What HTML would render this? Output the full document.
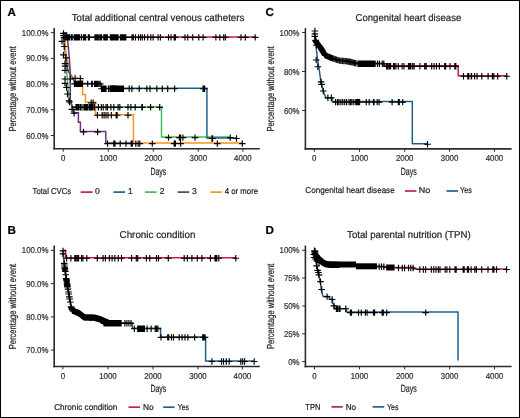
<!DOCTYPE html>
<html><head><meta charset="utf-8"><style>
html,body{margin:0;padding:0;background:#fff;}
body{width:520px;height:418px;overflow:hidden;position:relative;}
.frame{position:absolute;left:0;top:0;width:520px;height:418px;box-sizing:border-box;border:1px solid #000;}
svg{position:absolute;left:0;top:0;will-change:transform;}
text{font-family:"Liberation Sans",sans-serif;text-rendering:geometricPrecision;stroke-width:0.22px;}
</style></head><body>
<svg width="520" height="418" viewBox="0 0 520 418">
<text x="7.5" y="15.9" font-size="11.6" text-anchor="start" fill="#000" stroke="#000" font-weight="bold">A</text>
<text x="71.75" y="20.6" font-size="10" text-anchor="start" fill="#262626" stroke="#262626" font-weight="normal" textLength="172.5" lengthAdjust="spacingAndGlyphs">Total additional central venous catheters</text>
<line x1="54.2" y1="28" x2="54.2" y2="149.6" stroke="#2b2b2b" stroke-width="1.6"/>
<line x1="53.4" y1="148.8" x2="259.8" y2="148.8" stroke="#2b2b2b" stroke-width="1.6"/>
<line x1="50.9" y1="32.7" x2="54.2" y2="32.7" stroke="#2b2b2b" stroke-width="1"/>
<text x="48.4" y="35.7" font-size="8.5" text-anchor="end" fill="#303030" stroke="#303030" font-weight="normal" textLength="26.62" lengthAdjust="spacingAndGlyphs">100.0%</text>
<line x1="50.9" y1="58.4" x2="54.2" y2="58.4" stroke="#2b2b2b" stroke-width="1"/>
<text x="48.4" y="61.4" font-size="8.5" text-anchor="end" fill="#303030" stroke="#303030" font-weight="normal" textLength="22.26" lengthAdjust="spacingAndGlyphs">90.0%</text>
<line x1="50.9" y1="84.1" x2="54.2" y2="84.1" stroke="#2b2b2b" stroke-width="1"/>
<text x="48.4" y="87.1" font-size="8.5" text-anchor="end" fill="#303030" stroke="#303030" font-weight="normal" textLength="22.26" lengthAdjust="spacingAndGlyphs">80.0%</text>
<line x1="50.9" y1="109.8" x2="54.2" y2="109.8" stroke="#2b2b2b" stroke-width="1"/>
<text x="48.4" y="112.8" font-size="8.5" text-anchor="end" fill="#303030" stroke="#303030" font-weight="normal" textLength="22.26" lengthAdjust="spacingAndGlyphs">70.0%</text>
<line x1="50.9" y1="135.5" x2="54.2" y2="135.5" stroke="#2b2b2b" stroke-width="1"/>
<text x="48.4" y="138.5" font-size="8.5" text-anchor="end" fill="#303030" stroke="#303030" font-weight="normal" textLength="22.26" lengthAdjust="spacingAndGlyphs">60.0%</text>
<line x1="63.3" y1="148.8" x2="63.3" y2="151.7" stroke="#2b2b2b" stroke-width="1"/>
<text x="63.3" y="161.2" font-size="8.5" text-anchor="middle" fill="#303030" stroke="#303030" font-weight="normal" textLength="4.39" lengthAdjust="spacingAndGlyphs">0</text>
<line x1="108.3" y1="148.8" x2="108.3" y2="151.7" stroke="#2b2b2b" stroke-width="1"/>
<text x="108.3" y="161.2" font-size="8.5" text-anchor="middle" fill="#303030" stroke="#303030" font-weight="normal" textLength="17.57" lengthAdjust="spacingAndGlyphs">1000</text>
<line x1="153.3" y1="148.8" x2="153.3" y2="151.7" stroke="#2b2b2b" stroke-width="1"/>
<text x="153.3" y="161.2" font-size="8.5" text-anchor="middle" fill="#303030" stroke="#303030" font-weight="normal" textLength="17.57" lengthAdjust="spacingAndGlyphs">2000</text>
<line x1="198.3" y1="148.8" x2="198.3" y2="151.7" stroke="#2b2b2b" stroke-width="1"/>
<text x="198.3" y="161.2" font-size="8.5" text-anchor="middle" fill="#303030" stroke="#303030" font-weight="normal" textLength="17.57" lengthAdjust="spacingAndGlyphs">3000</text>
<line x1="242.9" y1="148.8" x2="242.9" y2="151.7" stroke="#2b2b2b" stroke-width="1"/>
<text x="242.9" y="161.2" font-size="8.5" text-anchor="middle" fill="#303030" stroke="#303030" font-weight="normal" textLength="17.57" lengthAdjust="spacingAndGlyphs">4000</text>
<text transform="translate(15.9,88.9) rotate(-90)" x="0" y="0" font-size="10.2" text-anchor="middle" fill="#262626" stroke="#262626" textLength="85.4" lengthAdjust="spacingAndGlyphs">Percentage without event</text>
<text x="150.4" y="175.0" font-size="10.4" text-anchor="start" fill="#262626" stroke="#262626" font-weight="normal" textLength="16.0" lengthAdjust="spacingAndGlyphs">Days</text>
<path d="M63.3,32.7 H64.6 V36.9 H255.2" fill="none" stroke="#c91f3e" stroke-width="1.5"/>
<path d="M63.3,32.7 L64,40 L65.5,55 L66.5,70 L67.5,82 L68.2,90 L68.8,96.4 L71.8,106.8 H161.5 V137.1 H230.3" fill="none" stroke="#49b75a" stroke-width="1.5"/>
<path d="M63.3,32.7 L64.5,45 L66,58 L67,66 L68.5,72 L71.4,75.7 L74.2,81.2 L74.6,83.4 H101.2 V88.2 H206.9 V138.0 H236.5" fill="none" stroke="#21608e" stroke-width="1.5"/>
<path d="M63.3,32.7 L64.7,36 L65.5,50 L67,60 L69.4,66 L70.2,72 L70.7,74.5 L71,78.5 H82.6 V94.5 H85.4 V102.3 H95.5 V114.7 H133.4 V143.1 H242.5" fill="none" stroke="#f8941b" stroke-width="1.5"/>
<path d="M63.3,32.7 L66.5,32.7 L67.8,41.6 L69.3,58 L70.2,72 L70.3,100.7 L72.9,107.6 L73.3,112.7 H78.4 V122.2 H80.4 V131.5 H105.8 V143.1 H132" fill="none" stroke="#67347b" stroke-width="1.5"/>
<text x="32.55" y="194.3" font-size="8.6" text-anchor="start" fill="#262626" stroke="#262626" font-weight="normal" textLength="38.6" lengthAdjust="spacingAndGlyphs">Total CVCs</text>
<line x1="80.7" y1="192.1" x2="92.6" y2="192.1" stroke="#c91f3e" stroke-width="1.7"/>
<text x="95.1" y="194.3" font-size="8.6" text-anchor="start" fill="#262626" stroke="#262626" font-weight="normal">0</text>
<line x1="113.4" y1="192.1" x2="125" y2="192.1" stroke="#21608e" stroke-width="1.7"/>
<text x="128.1" y="194.3" font-size="8.6" text-anchor="start" fill="#262626" stroke="#262626" font-weight="normal">1</text>
<line x1="145.1" y1="192.1" x2="156.6" y2="192.1" stroke="#49b75a" stroke-width="1.7"/>
<text x="159.8" y="194.3" font-size="8.6" text-anchor="start" fill="#262626" stroke="#262626" font-weight="normal">2</text>
<line x1="177.6" y1="192.1" x2="189.2" y2="192.1" stroke="#67347b" stroke-width="1.7"/>
<text x="192.1" y="194.3" font-size="8.6" text-anchor="start" fill="#262626" stroke="#262626" font-weight="normal">3</text>
<line x1="210.4" y1="192.1" x2="221.9" y2="192.1" stroke="#f8941b" stroke-width="1.7"/>
<text x="224.75" y="194.3" font-size="8.6" text-anchor="start" fill="#262626" stroke="#262626" font-weight="normal" textLength="33.4" lengthAdjust="spacingAndGlyphs">4 or more</text>
<text x="7.5" y="233.8" font-size="11.6" text-anchor="start" fill="#000" stroke="#000" font-weight="bold">B</text>
<text x="119.55" y="238.3" font-size="10" text-anchor="start" fill="#262626" stroke="#262626" font-weight="normal" textLength="75.9" lengthAdjust="spacingAndGlyphs">Chronic condition</text>
<line x1="54.2" y1="245.5" x2="54.2" y2="367.3" stroke="#2b2b2b" stroke-width="1.6"/>
<line x1="53.4" y1="366.5" x2="259.8" y2="366.5" stroke="#2b2b2b" stroke-width="1.6"/>
<line x1="50.9" y1="250.3" x2="54.2" y2="250.3" stroke="#2b2b2b" stroke-width="1"/>
<text x="48.4" y="253.3" font-size="8.5" text-anchor="end" fill="#303030" stroke="#303030" font-weight="normal" textLength="26.62" lengthAdjust="spacingAndGlyphs">100.0%</text>
<line x1="50.9" y1="283.6" x2="54.2" y2="283.6" stroke="#2b2b2b" stroke-width="1"/>
<text x="48.4" y="286.6" font-size="8.5" text-anchor="end" fill="#303030" stroke="#303030" font-weight="normal" textLength="22.26" lengthAdjust="spacingAndGlyphs">90.0%</text>
<line x1="50.9" y1="316.9" x2="54.2" y2="316.9" stroke="#2b2b2b" stroke-width="1"/>
<text x="48.4" y="319.9" font-size="8.5" text-anchor="end" fill="#303030" stroke="#303030" font-weight="normal" textLength="22.26" lengthAdjust="spacingAndGlyphs">80.0%</text>
<line x1="50.9" y1="350.1" x2="54.2" y2="350.1" stroke="#2b2b2b" stroke-width="1"/>
<text x="48.4" y="353.1" font-size="8.5" text-anchor="end" fill="#303030" stroke="#303030" font-weight="normal" textLength="22.26" lengthAdjust="spacingAndGlyphs">70.0%</text>
<line x1="62.9" y1="366.5" x2="62.9" y2="369.4" stroke="#2b2b2b" stroke-width="1"/>
<text x="62.9" y="378.9" font-size="8.5" text-anchor="middle" fill="#303030" stroke="#303030" font-weight="normal" textLength="4.39" lengthAdjust="spacingAndGlyphs">0</text>
<line x1="108.0" y1="366.5" x2="108.0" y2="369.4" stroke="#2b2b2b" stroke-width="1"/>
<text x="108.0" y="378.9" font-size="8.5" text-anchor="middle" fill="#303030" stroke="#303030" font-weight="normal" textLength="17.57" lengthAdjust="spacingAndGlyphs">1000</text>
<line x1="153.0" y1="366.5" x2="153.0" y2="369.4" stroke="#2b2b2b" stroke-width="1"/>
<text x="153.0" y="378.9" font-size="8.5" text-anchor="middle" fill="#303030" stroke="#303030" font-weight="normal" textLength="17.57" lengthAdjust="spacingAndGlyphs">2000</text>
<line x1="198.0" y1="366.5" x2="198.0" y2="369.4" stroke="#2b2b2b" stroke-width="1"/>
<text x="198.0" y="378.9" font-size="8.5" text-anchor="middle" fill="#303030" stroke="#303030" font-weight="normal" textLength="17.57" lengthAdjust="spacingAndGlyphs">3000</text>
<line x1="242.4" y1="366.5" x2="242.4" y2="369.4" stroke="#2b2b2b" stroke-width="1"/>
<text x="242.4" y="378.9" font-size="8.5" text-anchor="middle" fill="#303030" stroke="#303030" font-weight="normal" textLength="17.57" lengthAdjust="spacingAndGlyphs">4000</text>
<text transform="translate(15.9,306.5) rotate(-90)" x="0" y="0" font-size="10.2" text-anchor="middle" fill="#262626" stroke="#262626" textLength="85.4" lengthAdjust="spacingAndGlyphs">Percentage without event</text>
<text x="150.4" y="392.2" font-size="10.4" text-anchor="start" fill="#262626" stroke="#262626" font-weight="normal" textLength="16.0" lengthAdjust="spacingAndGlyphs">Days</text>
<path d="M62.9,250.3 H65.5 V257.7 H235.8" fill="none" stroke="#c91f3e" stroke-width="1.5"/>
<path d="M62.9,250.3 L63.6,258 L64.5,266 L65.5,273 L66.5,280 L67.5,287 L68.2,290 L69.5,298 L71.1,306.3 L72.5,310.2 L79.2,313 L84,317 L94.6,317.4 L100.4,319 L106,322.8 H132.3 V328.2 H160.6 V336.9 H205.6 V361 H254.2" fill="none" stroke="#21608e" stroke-width="1.5"/>
<text x="54.15" y="409.8" font-size="8.6" text-anchor="start" fill="#262626" stroke="#262626" font-weight="normal" textLength="63.2" lengthAdjust="spacingAndGlyphs">Chronic condition</text>
<line x1="128.5" y1="407.2" x2="140" y2="407.2" stroke="#c91f3e" stroke-width="1.7"/>
<text x="142.95" y="409.8" font-size="8.6" text-anchor="start" fill="#262626" stroke="#262626" font-weight="normal" textLength="10.6" lengthAdjust="spacingAndGlyphs">No</text>
<line x1="163.1" y1="407.2" x2="174.6" y2="407.2" stroke="#21608e" stroke-width="1.7"/>
<text x="177.75" y="409.8" font-size="8.6" text-anchor="start" fill="#262626" stroke="#262626" font-weight="normal" textLength="11.2" lengthAdjust="spacingAndGlyphs">Yes</text>
<text x="265.5" y="16.1" font-size="11.6" text-anchor="start" fill="#000" stroke="#000" font-weight="bold">C</text>
<text x="355.55" y="20.7" font-size="10" text-anchor="start" fill="#262626" stroke="#262626" font-weight="normal" textLength="105.7" lengthAdjust="spacingAndGlyphs">Congenital heart disease</text>
<line x1="305.4" y1="28.1" x2="305.4" y2="149.7" stroke="#2b2b2b" stroke-width="1.6"/>
<line x1="304.6" y1="148.9" x2="511.6" y2="148.9" stroke="#2b2b2b" stroke-width="1.6"/>
<line x1="302.1" y1="32.5" x2="305.4" y2="32.5" stroke="#2b2b2b" stroke-width="1"/>
<text x="299.6" y="35.5" font-size="8.5" text-anchor="end" fill="#303030" stroke="#303030" font-weight="normal" textLength="20.08" lengthAdjust="spacingAndGlyphs">100%</text>
<line x1="302.1" y1="71.5" x2="305.4" y2="71.5" stroke="#2b2b2b" stroke-width="1"/>
<text x="299.6" y="74.5" font-size="8.5" text-anchor="end" fill="#303030" stroke="#303030" font-weight="normal" textLength="15.71" lengthAdjust="spacingAndGlyphs">80%</text>
<line x1="302.1" y1="110.5" x2="305.4" y2="110.5" stroke="#2b2b2b" stroke-width="1"/>
<text x="299.6" y="113.5" font-size="8.5" text-anchor="end" fill="#303030" stroke="#303030" font-weight="normal" textLength="15.71" lengthAdjust="spacingAndGlyphs">60%</text>
<line x1="314.3" y1="148.9" x2="314.3" y2="151.8" stroke="#2b2b2b" stroke-width="1"/>
<text x="314.3" y="161.3" font-size="8.5" text-anchor="middle" fill="#303030" stroke="#303030" font-weight="normal" textLength="4.39" lengthAdjust="spacingAndGlyphs">0</text>
<line x1="359.5" y1="148.9" x2="359.5" y2="151.8" stroke="#2b2b2b" stroke-width="1"/>
<text x="359.5" y="161.3" font-size="8.5" text-anchor="middle" fill="#303030" stroke="#303030" font-weight="normal" textLength="17.57" lengthAdjust="spacingAndGlyphs">1000</text>
<line x1="404.7" y1="148.9" x2="404.7" y2="151.8" stroke="#2b2b2b" stroke-width="1"/>
<text x="404.7" y="161.3" font-size="8.5" text-anchor="middle" fill="#303030" stroke="#303030" font-weight="normal" textLength="17.57" lengthAdjust="spacingAndGlyphs">2000</text>
<line x1="449.6" y1="148.9" x2="449.6" y2="151.8" stroke="#2b2b2b" stroke-width="1"/>
<text x="449.6" y="161.3" font-size="8.5" text-anchor="middle" fill="#303030" stroke="#303030" font-weight="normal" textLength="17.57" lengthAdjust="spacingAndGlyphs">3000</text>
<line x1="494.5" y1="148.9" x2="494.5" y2="151.8" stroke="#2b2b2b" stroke-width="1"/>
<text x="494.5" y="161.3" font-size="8.5" text-anchor="middle" fill="#303030" stroke="#303030" font-weight="normal" textLength="17.57" lengthAdjust="spacingAndGlyphs">4000</text>
<text transform="translate(273.9,88.8) rotate(-90)" x="0" y="0" font-size="10.2" text-anchor="middle" fill="#262626" stroke="#262626" textLength="85.4" lengthAdjust="spacingAndGlyphs">Percentage without event</text>
<text x="400.7" y="175.0" font-size="10.4" text-anchor="start" fill="#262626" stroke="#262626" font-weight="normal" textLength="16.0" lengthAdjust="spacingAndGlyphs">Days</text>
<path d="M314.3,32.5 L314.7,36 L315.5,40 L316.5,42 L318.5,44.5 L320.5,47 L322.5,50.5 L325.2,54.8 L332.4,57.8 L339.5,60.1 L346.7,60.7 L352,61.8 L356,62.8 L358,63.3 H384.2 V65.8 H458.2 V75.7 H506.8" fill="none" stroke="#c91f3e" stroke-width="1.5"/>
<path d="M314.3,32.5 L315.2,40 L316.1,47.1 L317.6,60 L319,68 L320.9,81.8 L323.4,91.8 L326,97.7 L332.2,97.8 L332.2,101.6 H412.3 V143.7 H427.5" fill="none" stroke="#21608e" stroke-width="1.5"/>
<text x="305.35" y="193.3" font-size="8.6" text-anchor="start" fill="#262626" stroke="#262626" font-weight="normal" textLength="89.3" lengthAdjust="spacingAndGlyphs">Congenital heart disease</text>
<line x1="405" y1="191" x2="416.4" y2="191" stroke="#c91f3e" stroke-width="1.7"/>
<text x="418.75" y="193.3" font-size="8.6" text-anchor="start" fill="#262626" stroke="#262626" font-weight="normal" textLength="11.5" lengthAdjust="spacingAndGlyphs">No</text>
<line x1="446.5" y1="191" x2="458" y2="191" stroke="#21608e" stroke-width="1.7"/>
<text x="459.95" y="193.3" font-size="8.6" text-anchor="start" fill="#262626" stroke="#262626" font-weight="normal" textLength="11.9" lengthAdjust="spacingAndGlyphs">Yes</text>
<text x="265.5" y="233.5" font-size="11.6" text-anchor="start" fill="#000" stroke="#000" font-weight="bold">D</text>
<text x="347.05" y="237.9" font-size="10" text-anchor="start" fill="#262626" stroke="#262626" font-weight="normal" textLength="123.6" lengthAdjust="spacingAndGlyphs">Total parental nutrition (TPN)</text>
<line x1="305.4" y1="245.5" x2="305.4" y2="367.3" stroke="#2b2b2b" stroke-width="1.6"/>
<line x1="304.6" y1="366.5" x2="511.6" y2="366.5" stroke="#2b2b2b" stroke-width="1.6"/>
<line x1="302.1" y1="250.3" x2="305.4" y2="250.3" stroke="#2b2b2b" stroke-width="1"/>
<text x="299.6" y="253.3" font-size="8.5" text-anchor="end" fill="#303030" stroke="#303030" font-weight="normal" textLength="20.08" lengthAdjust="spacingAndGlyphs">100%</text>
<line x1="302.1" y1="278.1" x2="305.4" y2="278.1" stroke="#2b2b2b" stroke-width="1"/>
<text x="299.6" y="281.1" font-size="8.5" text-anchor="end" fill="#303030" stroke="#303030" font-weight="normal" textLength="15.71" lengthAdjust="spacingAndGlyphs">75%</text>
<line x1="302.1" y1="306.0" x2="305.4" y2="306.0" stroke="#2b2b2b" stroke-width="1"/>
<text x="299.6" y="309.0" font-size="8.5" text-anchor="end" fill="#303030" stroke="#303030" font-weight="normal" textLength="15.71" lengthAdjust="spacingAndGlyphs">50%</text>
<line x1="302.1" y1="333.8" x2="305.4" y2="333.8" stroke="#2b2b2b" stroke-width="1"/>
<text x="299.6" y="336.8" font-size="8.5" text-anchor="end" fill="#303030" stroke="#303030" font-weight="normal" textLength="15.71" lengthAdjust="spacingAndGlyphs">25%</text>
<line x1="302.1" y1="361.6" x2="305.4" y2="361.6" stroke="#2b2b2b" stroke-width="1"/>
<text x="299.6" y="364.6" font-size="8.5" text-anchor="end" fill="#303030" stroke="#303030" font-weight="normal" textLength="11.35" lengthAdjust="spacingAndGlyphs">0%</text>
<line x1="314.5" y1="366.5" x2="314.5" y2="369.4" stroke="#2b2b2b" stroke-width="1"/>
<text x="314.5" y="378.9" font-size="8.5" text-anchor="middle" fill="#303030" stroke="#303030" font-weight="normal" textLength="4.39" lengthAdjust="spacingAndGlyphs">0</text>
<line x1="359.5" y1="366.5" x2="359.5" y2="369.4" stroke="#2b2b2b" stroke-width="1"/>
<text x="359.5" y="378.9" font-size="8.5" text-anchor="middle" fill="#303030" stroke="#303030" font-weight="normal" textLength="17.57" lengthAdjust="spacingAndGlyphs">1000</text>
<line x1="404.7" y1="366.5" x2="404.7" y2="369.4" stroke="#2b2b2b" stroke-width="1"/>
<text x="404.7" y="378.9" font-size="8.5" text-anchor="middle" fill="#303030" stroke="#303030" font-weight="normal" textLength="17.57" lengthAdjust="spacingAndGlyphs">2000</text>
<line x1="449.6" y1="366.5" x2="449.6" y2="369.4" stroke="#2b2b2b" stroke-width="1"/>
<text x="449.6" y="378.9" font-size="8.5" text-anchor="middle" fill="#303030" stroke="#303030" font-weight="normal" textLength="17.57" lengthAdjust="spacingAndGlyphs">3000</text>
<line x1="494.5" y1="366.5" x2="494.5" y2="369.4" stroke="#2b2b2b" stroke-width="1"/>
<text x="494.5" y="378.9" font-size="8.5" text-anchor="middle" fill="#303030" stroke="#303030" font-weight="normal" textLength="17.57" lengthAdjust="spacingAndGlyphs">4000</text>
<text transform="translate(273.9,306.4) rotate(-90)" x="0" y="0" font-size="10.2" text-anchor="middle" fill="#262626" stroke="#262626" textLength="85.4" lengthAdjust="spacingAndGlyphs">Percentage without event</text>
<text x="400.7" y="392.0" font-size="10.4" text-anchor="start" fill="#262626" stroke="#262626" font-weight="normal" textLength="16.0" lengthAdjust="spacingAndGlyphs">Days</text>
<path d="M314.5,250.3 L315,253 L316,255.5 L318,258 L320,260 L322,261.8 L324,263 L326,263.8 L330,264.2 L340,264.4 H356 V266.3 H384 V267.5 H413.8 V269 H506.6" fill="none" stroke="#c91f3e" stroke-width="1.5"/>
<path d="M314.5,250.3 L315.2,256 L315.7,260.4 L318.2,272.5 L320.8,284.5 L321.3,290 L322.8,295.5 L323.2,296.6 H329.3 V299.1 H332.5 V303 L334.7,305.5 V308.7 H346.5 V312.1 H458 V360.5" fill="none" stroke="#21608e" stroke-width="1.5"/>
<text x="305.35" y="409.8" font-size="8.6" text-anchor="start" fill="#262626" stroke="#262626" font-weight="normal" textLength="15.1" lengthAdjust="spacingAndGlyphs">TPN</text>
<line x1="331.5" y1="406.9" x2="342.8" y2="406.9" stroke="#c91f3e" stroke-width="1.7"/>
<text x="345.75" y="409.8" font-size="8.6" text-anchor="start" fill="#262626" stroke="#262626" font-weight="normal" textLength="10.4" lengthAdjust="spacingAndGlyphs">No</text>
<line x1="372.6" y1="406.9" x2="384.2" y2="406.9" stroke="#21608e" stroke-width="1.7"/>
<text x="386.95" y="409.8" font-size="8.6" text-anchor="start" fill="#262626" stroke="#262626" font-weight="normal" textLength="11.7" lengthAdjust="spacingAndGlyphs">Yes</text>
<path d="M77.5,83.8 L82.5,83.8" stroke="#000" stroke-width="6.0" fill="none" stroke-linejoin="round"/><path d="M110.5,88.4 L116.5,88.4" stroke="#000" stroke-width="6.0" fill="none" stroke-linejoin="round"/><path d="M84,107.1 L88,107.1" stroke="#000" stroke-width="6.0" fill="none" stroke-linejoin="round"/><path d="M72.8,310.4 L79.2,313.1 L84,317.1 L94.6,317.4 L100.4,319 L108,322.4" stroke="#000" stroke-width="5.6" fill="none" stroke-linejoin="round"/><path d="M64.6,267.5 L65.2,271" stroke="#000" stroke-width="5.0" fill="none" stroke-linejoin="round"/><path d="M66.3,279 L67.5,286" stroke="#000" stroke-width="5.0" fill="none" stroke-linejoin="round"/><path d="M316,255.5 L318,258 L320,260 L322,261.8 L324,263 L326,264 L330,264.5 L356,264.6" stroke="#000" stroke-width="6.0" fill="none" stroke-linejoin="round"/><path d="M356,266.3 L377,266.3" stroke="#000" stroke-width="6.0" fill="none" stroke-linejoin="round"/><path d="M386.2,267.5 L394.6,267.5" stroke="#000" stroke-width="6.0" fill="none" stroke-linejoin="round"/><path d="M60.70,37.40h6.6M64.00,34.20v6.4M62.00,37.40h6.6M65.30,34.20v6.4M62.90,37.40h6.6M66.20,34.20v6.4M63.80,37.40h6.6M67.10,34.20v6.4M64.70,37.40h6.6M68.00,34.20v6.4M65.60,37.40h6.6M68.90,34.20v6.4M66.20,37.40h6.6M69.50,34.20v6.4M67.90,37.40h6.6M71.20,34.20v6.4M68.90,37.40h6.6M72.20,34.20v6.4M70.90,37.40h6.6M74.20,34.20v6.4M71.70,37.40h6.6M75.00,34.20v6.4M72.50,37.40h6.6M75.80,34.20v6.4M73.30,37.40h6.6M76.60,34.20v6.4M74.10,37.40h6.6M77.40,34.20v6.4M74.90,37.40h6.6M78.20,34.20v6.4M75.70,37.40h6.6M79.00,34.20v6.4M76.20,37.40h6.6M79.50,34.20v6.4M78.10,37.40h6.6M81.40,34.20v6.4M80.10,37.40h6.6M83.40,34.20v6.4M81.20,37.40h6.6M84.50,34.20v6.4M82.40,37.40h6.6M85.70,34.20v6.4M85.10,37.40h6.6M88.40,34.20v6.4M86.20,37.40h6.6M89.50,34.20v6.4M91.70,37.40h6.6M95.00,34.20v6.4M92.70,37.40h6.6M96.00,34.20v6.4M93.90,37.40h6.6M97.20,34.20v6.4M95.00,37.40h6.6M98.30,34.20v6.4M96.50,37.40h6.6M99.80,34.20v6.4M97.50,37.40h6.6M100.80,34.20v6.4M98.30,37.40h6.6M101.60,34.20v6.4M100.50,37.40h6.6M103.80,34.20v6.4M101.40,37.40h6.6M104.70,34.20v6.4M102.30,37.40h6.6M105.60,34.20v6.4M103.20,37.40h6.6M106.50,34.20v6.4M104.00,37.40h6.6M107.30,34.20v6.4M107.10,37.40h6.6M110.40,34.20v6.4M108.00,37.40h6.6M111.30,34.20v6.4M108.90,37.40h6.6M112.20,34.20v6.4M109.70,37.40h6.6M113.00,34.20v6.4M110.50,37.40h6.6M113.80,34.20v6.4M111.70,37.40h6.6M115.00,34.20v6.4M112.70,37.40h6.6M116.00,34.20v6.4M113.70,37.40h6.6M117.00,34.20v6.4M114.70,37.40h6.6M118.00,34.20v6.4M117.10,37.40h6.6M120.40,34.20v6.4M118.00,37.40h6.6M121.30,34.20v6.4M118.90,37.40h6.6M122.20,34.20v6.4M119.80,37.40h6.6M123.10,34.20v6.4M120.70,37.40h6.6M124.00,34.20v6.4M121.60,37.40h6.6M124.90,34.20v6.4M122.50,37.40h6.6M125.80,34.20v6.4M128.70,37.40h6.6M132.00,34.20v6.4M130.00,37.40h6.6M133.30,34.20v6.4M132.20,37.40h6.6M135.50,34.20v6.4M135.30,37.40h6.6M138.60,34.20v6.4M137.30,37.40h6.6M140.60,34.20v6.4M139.00,37.40h6.6M142.30,34.20v6.4M141.30,37.40h6.6M144.60,34.20v6.4M144.40,37.40h6.6M147.70,34.20v6.4M147.50,37.40h6.6M150.80,34.20v6.4M149.80,37.40h6.6M153.10,34.20v6.4M154.80,37.40h6.6M158.10,34.20v6.4M157.10,37.40h6.6M160.40,34.20v6.4M165.20,37.40h6.6M168.50,34.20v6.4M167.70,37.40h6.6M171.00,34.20v6.4M170.90,37.40h6.6M174.20,34.20v6.4M172.10,37.40h6.6M175.40,34.20v6.4M181.70,37.40h6.6M185.00,34.20v6.4M184.40,37.40h6.6M187.70,34.20v6.4M189.40,37.40h6.6M192.70,34.20v6.4M195.50,37.40h6.6M198.80,34.20v6.4M199.80,37.40h6.6M203.10,34.20v6.4M212.60,37.40h6.6M215.90,34.20v6.4M216.50,37.40h6.6M219.80,34.20v6.4M220.40,37.40h6.6M223.70,34.20v6.4M222.10,37.40h6.6M225.40,34.20v6.4M237.70,37.40h6.6M241.00,34.20v6.4M242.00,37.40h6.6M245.30,34.20v6.4M251.90,37.40h6.6M255.20,34.20v6.4M71.20,83.90h6.6M74.50,80.70v6.4M72.20,83.90h6.6M75.50,80.70v6.4M73.20,83.90h6.6M76.50,80.70v6.4M74.20,83.90h6.6M77.50,80.70v6.4M75.20,83.90h6.6M78.50,80.70v6.4M76.20,83.90h6.6M79.50,80.70v6.4M77.20,83.90h6.6M80.50,80.70v6.4M78.20,83.90h6.6M81.50,80.70v6.4M79.00,83.90h6.6M82.30,80.70v6.4M84.40,83.90h6.6M87.70,80.70v6.4M88.40,83.90h6.6M91.70,80.70v6.4M89.00,83.90h6.6M92.30,80.70v6.4M91.20,83.90h6.6M94.50,80.70v6.4M92.10,83.90h6.6M95.40,80.70v6.4M93.00,83.90h6.6M96.30,80.70v6.4M94.20,83.90h6.6M97.50,80.70v6.4M95.50,83.90h6.6M98.80,80.70v6.4M96.90,83.90h6.6M100.20,80.70v6.4M98.20,88.70h6.6M101.50,85.50v6.4M99.00,88.70h6.6M102.30,85.50v6.4M99.80,88.70h6.6M103.10,85.50v6.4M100.70,88.70h6.6M104.00,85.50v6.4M101.70,88.70h6.6M105.00,85.50v6.4M102.70,88.70h6.6M106.00,85.50v6.4M105.20,88.70h6.6M108.50,85.50v6.4M106.70,88.70h6.6M110.00,85.50v6.4M107.70,88.70h6.6M111.00,85.50v6.4M108.70,88.70h6.6M112.00,85.50v6.4M109.70,88.70h6.6M113.00,85.50v6.4M110.70,88.70h6.6M114.00,85.50v6.4M111.70,88.70h6.6M115.00,85.50v6.4M112.70,88.70h6.6M116.00,85.50v6.4M113.70,88.70h6.6M117.00,85.50v6.4M114.70,88.70h6.6M118.00,85.50v6.4M115.70,88.70h6.6M119.00,85.50v6.4M116.70,88.70h6.6M120.00,85.50v6.4M117.70,88.70h6.6M121.00,85.50v6.4M118.70,88.70h6.6M122.00,85.50v6.4M119.70,88.70h6.6M123.00,85.50v6.4M120.20,88.70h6.6M123.50,85.50v6.4M125.90,88.70h6.6M129.20,85.50v6.4M128.60,88.70h6.6M131.90,85.50v6.4M135.90,88.70h6.6M139.20,85.50v6.4M143.60,88.70h6.6M146.90,85.50v6.4M146.70,88.70h6.6M150.00,85.50v6.4M153.60,88.70h6.6M156.90,85.50v6.4M159.00,88.70h6.6M162.30,85.50v6.4M164.40,88.70h6.6M167.70,85.50v6.4M171.30,88.70h6.6M174.60,85.50v6.4M199.80,88.70h6.6M203.10,85.50v6.4M200.80,88.70h6.6M204.10,85.50v6.4M201.30,88.70h6.6M204.60,85.50v6.4M208.70,138.50h6.6M212.00,135.30v6.4M209.30,138.50h6.6M212.60,135.30v6.4M233.20,138.50h6.6M236.50,135.30v6.4M72.70,107.30h6.6M76.00,104.10v6.4M73.70,107.30h6.6M77.00,104.10v6.4M74.70,107.30h6.6M78.00,104.10v6.4M75.70,107.30h6.6M79.00,104.10v6.4M77.20,107.30h6.6M80.50,104.10v6.4M78.70,107.30h6.6M82.00,104.10v6.4M80.70,107.30h6.6M84.00,104.10v6.4M81.70,107.30h6.6M85.00,104.10v6.4M82.70,107.30h6.6M86.00,104.10v6.4M83.70,107.30h6.6M87.00,104.10v6.4M84.70,107.30h6.6M88.00,104.10v6.4M86.30,107.30h6.6M89.60,104.10v6.4M87.20,107.30h6.6M90.50,104.10v6.4M87.90,107.30h6.6M91.20,104.10v6.4M88.50,107.30h6.6M91.80,104.10v6.4M89.70,107.30h6.6M93.00,104.10v6.4M91.20,107.30h6.6M94.50,104.10v6.4M95.10,107.30h6.6M98.40,104.10v6.4M98.00,107.30h6.6M101.30,104.10v6.4M99.90,107.30h6.6M103.20,104.10v6.4M102.70,107.30h6.6M106.00,104.10v6.4M104.20,107.30h6.6M107.50,104.10v6.4M107.60,107.30h6.6M110.90,104.10v6.4M110.50,107.30h6.6M113.80,104.10v6.4M114.80,107.30h6.6M118.10,104.10v6.4M116.50,107.30h6.6M119.80,104.10v6.4M124.70,107.30h6.6M128.00,104.10v6.4M127.60,107.30h6.6M130.90,104.10v6.4M131.90,107.30h6.6M135.20,104.10v6.4M138.60,107.30h6.6M141.90,104.10v6.4M139.10,107.30h6.6M142.40,104.10v6.4M147.30,107.30h6.6M150.60,104.10v6.4M156.40,107.30h6.6M159.70,104.10v6.4M165.20,137.60h6.6M168.50,134.40v6.4M176.10,137.60h6.6M179.40,134.40v6.4M177.30,137.60h6.6M180.60,134.40v6.4M179.60,137.60h6.6M182.90,134.40v6.4M191.70,137.60h6.6M195.00,134.40v6.4M227.00,137.60h6.6M230.30,134.40v6.4M67.00,79.00h6.6M70.30,75.80v6.4M71.80,78.30h6.6M75.10,75.10v6.4M77.00,78.50h6.6M80.30,75.30v6.4M87.90,102.80h6.6M91.20,99.60v6.4M89.80,102.80h6.6M93.10,99.60v6.4M94.10,115.20h6.6M97.40,112.00v6.4M98.90,115.20h6.6M102.20,112.00v6.4M100.80,115.20h6.6M104.10,112.00v6.4M102.70,115.20h6.6M106.00,112.00v6.4M104.70,115.20h6.6M108.00,112.00v6.4M108.00,115.20h6.6M111.30,112.00v6.4M112.90,115.20h6.6M116.20,112.00v6.4M113.80,115.20h6.6M117.10,112.00v6.4M113.10,115.20h6.6M116.40,112.00v6.4M124.70,115.20h6.6M128.00,112.00v6.4M132.50,143.60h6.6M135.80,140.40v6.4M134.80,143.60h6.6M138.10,140.40v6.4M136.50,143.60h6.6M139.80,140.40v6.4M149.00,143.60h6.6M152.30,140.40v6.4M170.90,143.60h6.6M174.20,140.40v6.4M172.10,143.60h6.6M175.40,140.40v6.4M177.30,143.60h6.6M180.60,140.40v6.4M214.00,143.60h6.6M217.30,140.40v6.4M239.00,143.60h6.6M242.30,140.40v6.4M70.80,113.20h6.6M74.10,110.00v6.4M80.20,132.00h6.6M83.50,128.80v6.4M94.30,132.00h6.6M97.60,128.80v6.4M104.20,143.60h6.6M107.50,140.40v6.4M110.50,143.60h6.6M113.80,140.40v6.4M111.70,143.60h6.6M115.00,140.40v6.4M116.90,143.60h6.6M120.20,140.40v6.4M122.70,143.60h6.6M126.00,140.40v6.4M127.90,143.60h6.6M131.20,140.40v6.4M129.00,143.60h6.6M132.30,140.40v6.4M60.20,33.40h6.6M63.50,30.20v6.4M60.20,35.50h6.6M63.50,32.30v6.4M58.70,41.30h6.6M62.00,38.10v6.4M60.90,46.50h6.6M64.20,43.30v6.4M60.20,54.90h6.6M63.50,51.70v6.4M62.70,57.90h6.6M66.00,54.70v6.4M61.70,63.60h6.6M65.00,60.40v6.4M61.90,66.10h6.6M65.20,62.90v6.4M61.70,70.40h6.6M65.00,67.20v6.4M61.70,79.00h6.6M65.00,75.80v6.4M61.70,83.40h6.6M65.00,80.20v6.4M63.20,87.50h6.6M66.50,84.30v6.4M64.20,94.00h6.6M67.50,90.80v6.4M65.70,100.70h6.6M69.00,97.50v6.4M66.20,102.00h6.6M69.50,98.80v6.4M68.70,109.30h6.6M72.00,106.10v6.4M63.30,258.20h6.6M66.60,255.00v6.4M67.60,258.20h6.6M70.90,255.00v6.4M71.50,258.20h6.6M74.80,255.00v6.4M72.70,258.20h6.6M76.00,255.00v6.4M74.00,258.20h6.6M77.30,255.00v6.4M75.30,258.20h6.6M78.60,255.00v6.4M78.20,258.20h6.6M81.50,255.00v6.4M79.60,258.20h6.6M82.90,255.00v6.4M83.50,258.20h6.6M86.80,255.00v6.4M94.00,258.20h6.6M97.30,255.00v6.4M99.80,258.20h6.6M103.10,255.00v6.4M102.10,258.20h6.6M105.40,255.00v6.4M106.10,258.20h6.6M109.40,255.00v6.4M108.80,258.20h6.6M112.10,255.00v6.4M111.50,258.20h6.6M114.80,255.00v6.4M114.90,258.20h6.6M118.20,255.00v6.4M118.20,258.20h6.6M121.50,255.00v6.4M128.30,258.20h6.6M131.60,255.00v6.4M133.00,258.20h6.6M136.30,255.00v6.4M134.40,258.20h6.6M137.70,255.00v6.4M143.10,258.20h6.6M146.40,255.00v6.4M146.50,258.20h6.6M149.80,255.00v6.4M153.20,258.20h6.6M156.50,255.00v6.4M155.20,258.20h6.6M158.50,255.00v6.4M165.00,258.20h6.6M168.30,255.00v6.4M180.90,258.20h6.6M184.20,255.00v6.4M184.00,258.20h6.6M187.30,255.00v6.4M188.60,258.20h6.6M191.90,255.00v6.4M194.00,258.20h6.6M197.30,255.00v6.4M198.60,258.20h6.6M201.90,255.00v6.4M207.10,258.20h6.6M210.40,255.00v6.4M211.70,258.20h6.6M215.00,255.00v6.4M212.70,258.20h6.6M216.00,255.00v6.4M213.50,258.20h6.6M216.80,255.00v6.4M215.50,258.20h6.6M218.80,255.00v6.4M232.50,258.20h6.6M235.80,255.00v6.4M59.70,250.90h6.6M63.00,247.70v6.4M59.70,253.80h6.6M63.00,250.60v6.4M60.90,263.30h6.6M64.20,260.10v6.4M61.09,265.00h6.6M64.39,261.80v6.4M61.36,267.10h6.6M64.66,263.90v6.4M61.56,268.50h6.6M64.86,265.30v6.4M61.77,270.00h6.6M65.07,266.80v6.4M61.99,271.50h6.6M65.29,268.30v6.4M62.44,274.70h6.6M65.74,271.50v6.4M63.00,278.60h6.6M66.30,275.40v6.4M63.13,279.50h6.6M66.43,276.30v6.4M63.27,280.50h6.6M66.57,277.30v6.4M63.49,282.00h6.6M66.79,278.80v6.4M63.74,283.80h6.6M67.04,280.60v6.4M63.91,285.00h6.6M67.21,281.80v6.4M64.03,285.80h6.6M67.33,282.60v6.4M64.20,287.00h6.6M67.50,283.80v6.4M64.69,289.10h6.6M67.99,285.90v6.4M65.23,292.00h6.6M68.53,288.80v6.4M65.55,294.00h6.6M68.85,290.80v6.4M66.01,296.80h6.6M69.31,293.60v6.4M66.39,299.00h6.6M69.69,295.80v6.4M66.97,302.00h6.6M70.27,298.80v6.4M67.80,306.80h6.6M71.10,303.60v6.4M68.27,308.10h6.6M71.57,304.90v6.4M68.73,309.40h6.6M72.03,306.20v6.4M69.20,310.70h6.6M72.50,307.50v6.4M70.32,311.17h6.6M73.62,307.97v6.4M71.43,311.63h6.6M74.73,308.43v6.4M72.55,312.10h6.6M75.85,308.90v6.4M73.67,312.57h6.6M76.97,309.37v6.4M74.78,313.03h6.6M78.08,309.83v6.4M75.90,313.50h6.6M79.20,310.30v6.4M76.86,314.30h6.6M80.16,311.10v6.4M77.82,315.10h6.6M81.12,311.90v6.4M78.78,315.90h6.6M82.08,312.70v6.4M79.74,316.70h6.6M83.04,313.50v6.4M80.70,317.50h6.6M84.00,314.30v6.4M82.03,317.55h6.6M85.33,314.35v6.4M83.35,317.60h6.6M86.65,314.40v6.4M84.67,317.65h6.6M87.97,314.45v6.4M86.00,317.70h6.6M89.30,314.50v6.4M87.33,317.75h6.6M90.62,314.55v6.4M88.65,317.80h6.6M91.95,314.60v6.4M89.97,317.85h6.6M93.27,314.65v6.4M91.30,317.90h6.6M94.60,314.70v6.4M92.46,318.22h6.6M95.76,315.02v6.4M93.62,318.54h6.6M96.92,315.34v6.4M94.78,318.86h6.6M98.08,315.66v6.4M95.94,319.18h6.6M99.24,315.98v6.4M97.10,319.50h6.6M100.40,316.30v6.4M98.22,320.26h6.6M101.52,317.06v6.4M99.34,321.02h6.6M102.64,317.82v6.4M100.46,321.78h6.6M103.76,318.58v6.4M101.58,322.54h6.6M104.88,319.34v6.4M100.70,323.30h6.6M104.00,320.10v6.4M101.60,323.30h6.6M104.90,320.10v6.4M102.50,323.30h6.6M105.80,320.10v6.4M103.40,323.30h6.6M106.70,320.10v6.4M104.30,323.30h6.6M107.60,320.10v6.4M105.20,323.30h6.6M108.50,320.10v6.4M106.10,323.30h6.6M109.40,320.10v6.4M107.00,323.30h6.6M110.30,320.10v6.4M107.90,323.30h6.6M111.20,320.10v6.4M108.80,323.30h6.6M112.10,320.10v6.4M109.70,323.30h6.6M113.00,320.10v6.4M110.60,323.30h6.6M113.90,320.10v6.4M111.50,323.30h6.6M114.80,320.10v6.4M112.40,323.30h6.6M115.70,320.10v6.4M113.30,323.30h6.6M116.60,320.10v6.4M114.20,323.30h6.6M117.50,320.10v6.4M115.10,323.30h6.6M118.40,320.10v6.4M116.00,323.30h6.6M119.30,320.10v6.4M116.90,323.30h6.6M120.20,320.10v6.4M117.80,323.30h6.6M121.10,320.10v6.4M121.60,323.30h6.6M124.90,320.10v6.4M123.60,323.30h6.6M126.90,320.10v6.4M125.60,323.30h6.6M128.90,320.10v6.4M127.70,323.30h6.6M131.00,320.10v6.4M131.00,328.70h6.6M134.30,325.50v6.4M134.40,328.70h6.6M137.70,325.50v6.4M135.40,328.70h6.6M138.70,325.50v6.4M136.40,328.70h6.6M139.70,325.50v6.4M137.40,328.70h6.6M140.70,325.50v6.4M138.40,328.70h6.6M141.70,325.50v6.4M139.40,328.70h6.6M142.70,325.50v6.4M140.40,328.70h6.6M143.70,325.50v6.4M141.10,328.70h6.6M144.40,325.50v6.4M143.80,328.70h6.6M147.10,325.50v6.4M147.80,328.70h6.6M151.10,325.50v6.4M151.90,328.70h6.6M155.20,325.50v6.4M153.20,328.70h6.6M156.50,325.50v6.4M154.60,328.70h6.6M157.90,325.50v6.4M157.70,337.40h6.6M161.00,334.20v6.4M164.40,337.40h6.6M167.70,334.20v6.4M165.40,337.40h6.6M168.70,334.20v6.4M168.20,337.40h6.6M171.50,334.20v6.4M170.20,337.40h6.6M173.50,334.20v6.4M175.90,337.40h6.6M179.20,334.20v6.4M178.80,337.40h6.6M182.10,334.20v6.4M181.70,337.40h6.6M185.00,334.20v6.4M184.60,337.40h6.6M187.90,334.20v6.4M191.30,337.40h6.6M194.60,334.20v6.4M199.40,337.40h6.6M202.70,334.20v6.4M200.50,337.40h6.6M203.80,334.20v6.4M201.70,337.40h6.6M205.00,334.20v6.4M208.60,361.50h6.6M211.90,358.30v6.4M218.20,361.50h6.6M221.50,358.30v6.4M220.20,361.50h6.6M223.50,358.30v6.4M223.00,361.50h6.6M226.30,358.30v6.4M225.90,361.50h6.6M229.20,358.30v6.4M237.50,361.50h6.6M240.80,358.30v6.4M239.40,361.50h6.6M242.70,358.30v6.4M241.30,361.50h6.6M244.60,358.30v6.4M250.90,361.50h6.6M254.20,358.30v6.4M311.60,31.00h6.6M314.90,27.80v6.4M311.60,33.90h6.6M314.90,30.70v6.4M311.60,36.30h6.6M314.90,33.10v6.4M312.40,40.30h6.6M315.70,37.10v6.4M313.20,45.20h6.6M316.50,42.00v6.4M312.20,40.50h6.6M315.50,37.30v6.4M312.70,41.50h6.6M316.00,38.30v6.4M313.20,42.50h6.6M316.50,39.30v6.4M313.87,43.33h6.6M317.17,40.13v6.4M314.53,44.17h6.6M317.83,40.97v6.4M315.20,45.00h6.6M318.50,41.80v6.4M315.87,45.83h6.6M319.17,42.63v6.4M316.53,46.67h6.6M319.83,43.47v6.4M317.20,47.50h6.6M320.50,44.30v6.4M317.70,48.38h6.6M321.00,45.17v6.4M318.20,49.25h6.6M321.50,46.05v6.4M318.70,50.12h6.6M322.00,46.92v6.4M319.20,51.00h6.6M322.50,47.80v6.4M319.74,51.86h6.6M323.04,48.66v6.4M320.28,52.72h6.6M323.58,49.52v6.4M320.82,53.58h6.6M324.12,50.38v6.4M321.36,54.44h6.6M324.66,51.24v6.4M321.90,55.30h6.6M325.20,52.10v6.4M322.93,55.73h6.6M326.23,52.53v6.4M323.96,56.16h6.6M327.26,52.96v6.4M324.99,56.59h6.6M328.29,53.39v6.4M326.01,57.01h6.6M329.31,53.81v6.4M327.04,57.44h6.6M330.34,54.24v6.4M328.07,57.87h6.6M331.37,54.67v6.4M329.10,58.30h6.6M332.40,55.10v6.4M330.52,58.76h6.6M333.82,55.56v6.4M331.94,59.22h6.6M335.24,56.02v6.4M333.36,59.68h6.6M336.66,56.48v6.4M334.78,60.14h6.6M338.08,56.94v6.4M336.20,60.60h6.6M339.50,57.40v6.4M337.64,60.72h6.6M340.94,57.52v6.4M339.08,60.84h6.6M342.38,57.64v6.4M340.52,60.96h6.6M343.82,57.76v6.4M341.96,61.08h6.6M345.26,57.88v6.4M343.40,61.20h6.6M346.70,58.00v6.4M344.72,61.48h6.6M348.02,58.27v6.4M346.05,61.75h6.6M349.35,58.55v6.4M347.38,62.02h6.6M350.68,58.82v6.4M348.70,62.30h6.6M352.00,59.10v6.4M350.03,62.63h6.6M353.33,59.43v6.4M351.37,62.97h6.6M354.67,59.77v6.4M352.70,63.30h6.6M356.00,60.10v6.4M354.70,63.80h6.6M358.00,60.60v6.4M355.60,63.80h6.6M358.90,60.60v6.4M356.50,63.80h6.6M359.80,60.60v6.4M357.40,63.80h6.6M360.70,60.60v6.4M358.30,63.80h6.6M361.60,60.60v6.4M359.20,63.80h6.6M362.50,60.60v6.4M360.10,63.80h6.6M363.40,60.60v6.4M361.00,63.80h6.6M364.30,60.60v6.4M361.90,63.80h6.6M365.20,60.60v6.4M362.80,63.80h6.6M366.10,60.60v6.4M363.70,63.80h6.6M367.00,60.60v6.4M364.60,63.80h6.6M367.90,60.60v6.4M365.50,63.80h6.6M368.80,60.60v6.4M366.40,63.80h6.6M369.70,60.60v6.4M367.30,63.80h6.6M370.60,60.60v6.4M368.20,63.80h6.6M371.50,60.60v6.4M369.10,63.80h6.6M372.40,60.60v6.4M370.00,63.80h6.6M373.30,60.60v6.4M370.90,63.80h6.6M374.20,60.60v6.4M371.80,63.80h6.6M375.10,60.60v6.4M374.20,63.80h6.6M377.50,60.60v6.4M376.10,63.80h6.6M379.40,60.60v6.4M379.00,63.80h6.6M382.30,60.60v6.4M380.50,63.80h6.6M383.80,60.60v6.4M383.30,66.30h6.6M386.60,63.10v6.4M384.10,66.30h6.6M387.40,63.10v6.4M384.90,66.30h6.6M388.20,63.10v6.4M386.30,66.30h6.6M389.60,63.10v6.4M387.30,66.30h6.6M390.60,63.10v6.4M390.20,66.30h6.6M393.50,63.10v6.4M391.10,66.30h6.6M394.40,63.10v6.4M392.60,66.30h6.6M395.90,63.10v6.4M395.00,66.30h6.6M398.30,63.10v6.4M398.80,66.30h6.6M402.10,63.10v6.4M400.70,66.30h6.6M404.00,63.10v6.4M405.10,66.30h6.6M408.40,63.10v6.4M405.80,66.30h6.6M409.10,63.10v6.4M406.50,66.30h6.6M409.80,63.10v6.4M407.50,66.30h6.6M410.80,63.10v6.4M409.40,66.30h6.6M412.70,63.10v6.4M410.80,66.30h6.6M414.10,63.10v6.4M416.60,66.30h6.6M419.90,63.10v6.4M421.40,66.30h6.6M424.70,63.10v6.4M422.90,66.30h6.6M426.20,63.10v6.4M422.70,66.30h6.6M426.00,63.10v6.4M428.40,66.30h6.6M431.70,63.10v6.4M430.80,66.30h6.6M434.10,63.10v6.4M433.20,66.30h6.6M436.50,63.10v6.4M436.10,66.30h6.6M439.40,63.10v6.4M441.40,66.30h6.6M444.70,63.10v6.4M442.40,66.30h6.6M445.70,63.10v6.4M446.70,66.30h6.6M450.00,63.10v6.4M451.50,66.30h6.6M454.80,63.10v6.4M452.50,66.30h6.6M455.80,63.10v6.4M460.20,76.20h6.6M463.50,73.00v6.4M464.50,76.20h6.6M467.80,73.00v6.4M465.10,76.20h6.6M468.40,73.00v6.4M465.50,76.20h6.6M468.80,73.00v6.4M468.00,76.20h6.6M471.30,73.00v6.4M468.30,76.20h6.6M471.60,73.00v6.4M471.30,76.20h6.6M474.60,73.00v6.4M473.70,76.20h6.6M477.00,73.00v6.4M478.50,76.20h6.6M481.80,73.00v6.4M484.80,76.20h6.6M488.10,73.00v6.4M489.10,76.20h6.6M492.40,73.00v6.4M490.50,76.20h6.6M493.80,73.00v6.4M494.40,76.20h6.6M497.70,73.00v6.4M503.50,76.20h6.6M506.80,73.00v6.4M312.90,60.00h6.6M316.20,56.80v6.4M314.50,66.70h6.6M317.80,63.50v6.4M317.70,81.80h6.6M321.00,78.60v6.4M318.30,84.30h6.6M321.60,81.10v6.4M320.00,91.00h6.6M323.30,87.80v6.4M324.60,97.80h6.6M327.90,94.60v6.4M328.00,97.80h6.6M331.30,94.60v6.4M332.30,102.10h6.6M335.60,98.90v6.4M334.20,102.10h6.6M337.50,98.90v6.4M335.60,102.10h6.6M338.90,98.90v6.4M337.60,102.10h6.6M340.90,98.90v6.4M339.50,102.10h6.6M342.80,98.90v6.4M341.40,102.10h6.6M344.70,98.90v6.4M343.30,102.10h6.6M346.60,98.90v6.4M345.70,102.10h6.6M349.00,98.90v6.4M347.20,102.10h6.6M350.50,98.90v6.4M348.60,102.10h6.6M351.90,98.90v6.4M350.50,102.10h6.6M353.80,98.90v6.4M352.50,102.10h6.6M355.80,98.90v6.4M353.50,102.10h6.6M356.80,98.90v6.4M354.50,102.10h6.6M357.80,98.90v6.4M355.50,102.10h6.6M358.80,98.90v6.4M356.30,102.10h6.6M359.60,98.90v6.4M363.00,102.10h6.6M366.30,98.90v6.4M365.90,102.10h6.6M369.20,98.90v6.4M370.70,102.10h6.6M374.00,98.90v6.4M370.10,102.10h6.6M373.40,98.90v6.4M373.90,102.10h6.6M377.20,98.90v6.4M375.80,102.10h6.6M379.10,98.90v6.4M388.80,102.10h6.6M392.10,98.90v6.4M395.10,102.10h6.6M398.40,98.90v6.4M396.00,102.10h6.6M399.30,98.90v6.4M399.40,102.10h6.6M402.70,98.90v6.4M424.20,144.20h6.6M427.50,141.00v6.4M311.20,250.80h6.6M314.50,247.60v6.4M311.45,252.15h6.6M314.75,248.95v6.4M311.70,253.50h6.6M315.00,250.30v6.4M312.20,254.75h6.6M315.50,251.55v6.4M312.70,256.00h6.6M316.00,252.80v6.4M313.37,256.83h6.6M316.67,253.63v6.4M314.03,257.67h6.6M317.33,254.47v6.4M314.70,258.50h6.6M318.00,255.30v6.4M315.70,259.50h6.6M319.00,256.30v6.4M316.70,260.50h6.6M320.00,257.30v6.4M317.70,261.40h6.6M321.00,258.20v6.4M318.70,262.30h6.6M322.00,259.10v6.4M319.70,262.90h6.6M323.00,259.70v6.4M320.70,263.50h6.6M324.00,260.30v6.4M321.70,263.90h6.6M325.00,260.70v6.4M322.70,264.30h6.6M326.00,261.10v6.4M323.70,264.40h6.6M327.00,261.20v6.4M324.70,264.50h6.6M328.00,261.30v6.4M325.70,264.60h6.6M329.00,261.40v6.4M326.70,264.70h6.6M330.00,261.50v6.4M327.70,264.72h6.6M331.00,261.52v6.4M328.70,264.74h6.6M332.00,261.54v6.4M329.70,264.76h6.6M333.00,261.56v6.4M330.70,264.78h6.6M334.00,261.58v6.4M331.70,264.80h6.6M335.00,261.60v6.4M332.70,264.82h6.6M336.00,261.62v6.4M333.70,264.84h6.6M337.00,261.64v6.4M334.70,264.86h6.6M338.00,261.66v6.4M335.70,264.88h6.6M339.00,261.68v6.4M375.90,266.80h6.6M379.20,263.60v6.4M378.20,266.80h6.6M381.50,263.60v6.4M380.50,266.80h6.6M383.80,263.60v6.4M395.20,268.00h6.6M398.50,264.80v6.4M399.00,268.00h6.6M402.30,264.80v6.4M401.30,268.00h6.6M404.60,264.80v6.4M405.20,268.00h6.6M408.50,264.80v6.4M407.50,268.00h6.6M410.80,264.80v6.4M409.80,268.00h6.6M413.10,264.80v6.4M416.50,269.50h6.6M419.80,266.30v6.4M420.00,269.50h6.6M423.30,266.30v6.4M422.30,269.50h6.6M425.60,266.30v6.4M428.00,269.50h6.6M431.30,266.30v6.4M430.40,269.50h6.6M433.70,266.30v6.4M432.70,269.50h6.6M436.00,266.30v6.4M435.00,269.50h6.6M438.30,266.30v6.4M436.70,269.50h6.6M440.00,266.30v6.4M441.90,269.50h6.6M445.20,266.30v6.4M443.60,269.50h6.6M446.90,266.30v6.4M446.50,269.50h6.6M449.80,266.30v6.4M451.70,269.50h6.6M455.00,266.30v6.4M452.90,269.50h6.6M456.20,266.30v6.4M459.80,269.50h6.6M463.10,266.30v6.4M460.90,269.50h6.6M464.20,266.30v6.4M464.10,269.50h6.6M467.40,266.30v6.4M465.20,269.50h6.6M468.50,266.30v6.4M467.80,269.50h6.6M471.10,266.30v6.4M471.50,269.50h6.6M474.80,266.30v6.4M473.10,269.50h6.6M476.40,266.30v6.4M478.40,269.50h6.6M481.70,266.30v6.4M484.70,269.50h6.6M488.00,266.30v6.4M489.50,269.50h6.6M492.80,266.30v6.4M490.60,269.50h6.6M493.90,266.30v6.4M493.20,269.50h6.6M496.50,266.30v6.4M503.30,269.50h6.6M506.60,266.30v6.4M311.80,251.20h6.6M315.10,248.00v6.4M311.50,252.20h6.6M314.80,249.00v6.4M310.50,254.50h6.6M313.80,251.30v6.4M310.90,257.50h6.6M314.20,254.30v6.4M312.20,259.00h6.6M315.50,255.80v6.4M313.70,261.00h6.6M317.00,257.80v6.4M315.70,262.50h6.6M319.00,259.30v6.4M313.30,265.90h6.6M316.60,262.70v6.4M314.30,270.40h6.6M317.60,267.20v6.4M315.20,272.50h6.6M318.50,269.30v6.4M315.70,274.80h6.6M319.00,271.60v6.4M317.20,281.60h6.6M320.50,278.40v6.4M318.40,289.50h6.6M321.70,286.30v6.4M323.80,296.60h6.6M327.10,293.40v6.4M328.80,299.50h6.6M332.10,296.30v6.4M330.60,305.90h6.6M333.90,302.70v6.4M333.10,308.70h6.6M336.40,305.50v6.4M334.20,308.70h6.6M337.50,305.50v6.4M335.70,308.70h6.6M339.00,305.50v6.4M336.70,308.70h6.6M340.00,305.50v6.4M342.50,308.70h6.6M345.80,305.50v6.4M347.10,312.60h6.6M350.40,309.40v6.4M348.20,312.60h6.6M351.50,309.40v6.4M355.20,312.60h6.6M358.50,309.40v6.4M358.00,312.60h6.6M361.30,309.40v6.4M362.10,312.60h6.6M365.40,309.40v6.4M363.80,312.60h6.6M367.10,309.40v6.4M370.20,312.60h6.6M373.50,309.40v6.4M371.30,312.60h6.6M374.60,309.40v6.4M378.80,312.60h6.6M382.10,309.40v6.4M380.00,312.60h6.6M383.30,309.40v6.4M383.40,312.60h6.6M386.70,309.40v6.4M422.40,312.60h6.6M425.70,309.40v6.4" stroke="#000" stroke-width="1.15" fill="none"/>
</svg>
<div class="frame"></div>
</body></html>
